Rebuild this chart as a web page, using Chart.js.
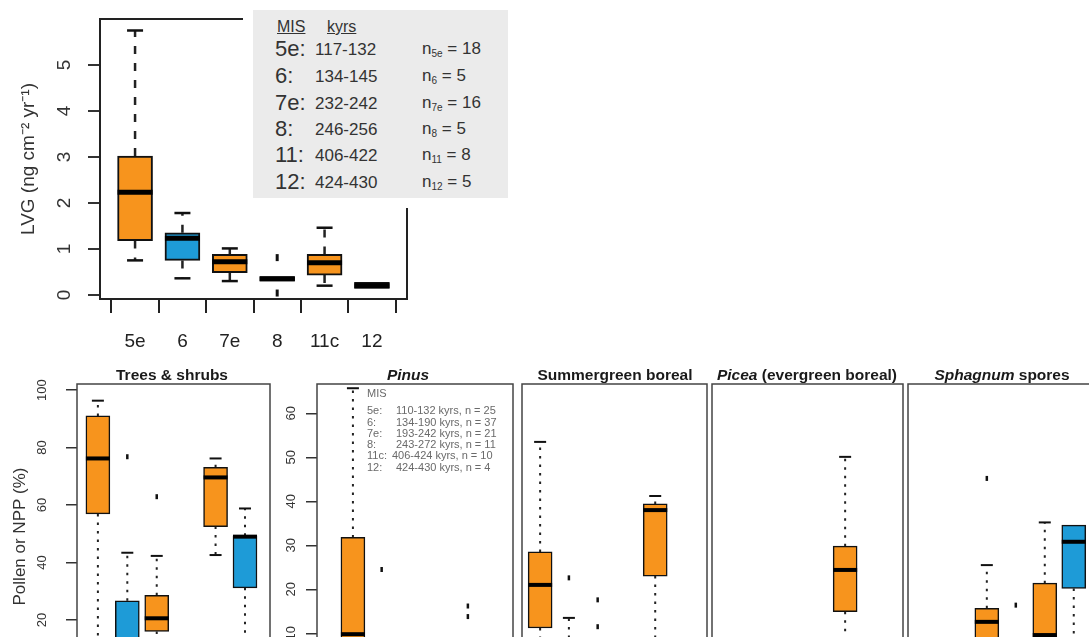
<!DOCTYPE html>
<html>
<head>
<meta charset="utf-8">
<script src="https://cdn.jsdelivr.net/npm/chart.js@4.4.1/dist/chart.umd.min.js"></script>
<style>
  html, body { margin: 0; padding: 0; background: #fff; overflow: hidden; width: 1089px; height: 637px; }
  body { position: relative; font-family: "Liberation Sans", Arial, sans-serif; color: #222; }
  canvas { position: absolute; }
  .ttl { position: absolute; top: 367px; font-weight: bold; font-size: 15.5px; line-height: 1; white-space: nowrap; transform: translateX(-50%); color: #1a1a1a; }
  #lvgKey { position: absolute; left: 243px; top: 0; width: 255px; height: 188px; background: #ebebeb; border: 10px solid #fff; color: #333; z-index: 2; }
  #lvgKey span, #pinusKey span { position: absolute; white-space: nowrap; line-height: 1; transform: translateY(-50%); }
  #pinusKey { position: absolute; left: 367px; top: 386px; width: 150px; height: 90px; color: #6a6a6a; font-size: 11px; z-index: 2; }
  u { text-decoration: underline; }
  sub { font-size: 10px; vertical-align: -3px; }
</style>
</head>
<body>
<canvas id="lvg" width="420" height="360" style="left:0;top:0"></canvas>
<canvas id="trees" width="272" height="330" style="left:0;top:360px"></canvas>
<canvas id="pinus" width="243" height="330" style="left:272px;top:360px"></canvas>
<canvas id="summer" width="194" height="330" style="left:515px;top:360px"></canvas>
<canvas id="picea" width="196" height="330" style="left:709px;top:360px"></canvas>
<canvas id="sphag" width="196" height="330" style="left:905px;top:360px"></canvas>

<div id="lvgKey"></div>
<div id="pinusKey"></div>

<div class="ttl" style="left:172px">Trees &amp; shrubs</div>
<div class="ttl" style="left:408px"><i>Pinus</i></div>
<div class="ttl" style="left:615px">Summergreen boreal</div>
<div class="ttl" style="left:807px"><i>Picea</i> (evergreen boreal)</div>
<div class="ttl" style="left:1002px"><i>Sphagnum</i> spores</div>

<script>
var misLabels = ['5e', '6', '7e', '8', '11c', '12'];

// box stats per MIS stage: [low whisker, Q1, median, Q3, high whisker]
var lvgBoxes = [[0.75, 1.18, 2.23, 3.02, 5.75], [0.36, 0.75, 1.23, 1.35, 1.78], [0.30, 0.48, 0.72, 0.88, 1.01],
                [0.30, 0.30, 0.35, 0.40, 0.40], [0.20, 0.43, 0.70, 0.88, 1.46], [0.14, 0.14, 0.20, 0.27, 0.27]];
var lvgOutliers = [[], [], [], [0.81, 0.04], [], []];
var lvgTicks = [0, 1, 2, 3, 4, 5];

var treesBoxes = [[5, 56.9, 76.2, 91, 96.3], [1, 5, 10, 26.7, 43.4], [6, 16, 20.6, 28.6, 42.3],
                  [0.5, 2, 4, 7, 11], [42.6, 52.5, 69.6, 73.1, 76.2], [8, 31.2, 49, 49.3, 58.8]];
var treesOutliers = [[], [76.8], [62.9], [], [], []];
var treesTicks = [0, 20, 40, 60, 80, 100];

var pinusBoxes = [[0.5, 3, 9.8, 31.8, 65.7], [0.2, 1.5, 3, 6, 8.5], [0.2, 1, 2, 4, 7],
                  [0.1, 0.5, 1, 2, 4], [0.5, 2, 4, 7, 8.5], [0.1, 0.5, 1, 2, 3]];
var pinusOutliers = [[], [24.5], [], [], [16.2, 13.8], []];
var pinusTicks = [0, 10, 20, 30, 40, 50, 60];

var summerBoxes = [[0, 11.2, 21, 28.5, 53.5], [0, 1, 3, 7, 13.5], [0, 0.5, 2, 4, 8],
                   [0, 0.3, 1, 2, 4], [4, 23, 38, 39.4, 41.2], [0, 0.5, 1.5, 3, 6]];
var summerOutliers = [[], [22.6], [17.6, 11.5], [], [], []];

var piceaBoxes = [[0, 0.5, 1.5, 3, 6], [0, 0.2, 0.5, 1, 2], [0, 1, 2, 4, 8],
                  [0, 0.2, 0.5, 1, 2], [2, 14.9, 24.4, 29.8, 50.1], [0, 0.5, 1, 2, 4]];
var piceaOutliers = [[], [], [], [], [], []];

var sphagBoxes = [[0, 1, 2, 4, 8], [0, 1, 2, 3, 6], [0, 5, 12.6, 15.7, 25.5],
                  [0, 1, 2, 4, 8], [0, 4, 9.6, 21.4, 35.2], [5, 20.2, 30.8, 34.6, 34.6]];
var sphagOutliers = [[], [], [45.2], [16.4], [], []];

// legend texts
var keyMis = ['5e:', '6:', '7e:', '8:', '11:', '12:'];
var keyKyrs = ['117-132', '134-145', '232-242', '246-256', '406-422', '424-430'];
var keyNSub = ['5e', '6', '7e', '8', '11', '12'];
var keyN = [18, 5, 16, 5, 8, 5];
var pinusKeyMis = ['5e:', '6:', '7e:', '8:', '11c:', '12:'];
var pinusKeyKyrs = ['110-132', '134-190', '193-242', '243-272', '406-424', '424-430'];
var pinusKeyN = [25, 37, 21, 11, 10, 4];

var orange = '#f7941d', blue = '#1e9bd7';
var misColors = [orange, blue, orange, blue, orange, blue];

var framePlugin = {
  id: 'frame',
  afterDraw: function (chart, args, opts) {
    var a = chart.chartArea, c = chart.ctx;
    c.save();
    c.strokeStyle = opts.color;
    c.lineWidth = opts.width;
    c.strokeRect(a.left, a.top, a.right - a.left, a.bottom - a.top);
    c.restore();
  }
};

function boxChart(id, stats, outliers, yTicks, look) {
  var box = [], med = [], caps = [], whisk = [], outs = [];
  stats.forEach(function (s, i) {
    var x = i + 1;
    box.push({x: x, y: [s[1], s[3]]});
    med.push({x: x, y: s[2]});
    if (s[4] > s[3]) {
      whisk.push({x: x, y: s[3]}, {x: x, y: s[4]}, {x: x, y: null});
      caps.push({x: x, y: s[4]});
    }
    if (s[0] < s[1]) {
      whisk.push({x: x, y: s[1]}, {x: x, y: s[0]}, {x: x, y: null});
      caps.push({x: x, y: s[0]});
    }
    outliers[i].forEach(function (v) { outs.push({x: x, y: v}); });
  });

  return new Chart(document.getElementById(id), {
    type: 'line',
    data: {
      datasets: [{
        type: 'line', data: med, order: 1, showLine: false,
        pointStyle: 'line', pointRadius: look.boxW / 2, pointBorderWidth: look.medW,
        pointBorderColor: '#000'
      }, {
        type: 'line', data: caps, order: 2, showLine: false,
        pointStyle: 'line', pointRadius: look.capR, pointBorderWidth: look.capW,
        pointBorderColor: '#111'
      }, {
        type: 'line', data: outs, order: 3, showLine: false,
        pointStyle: 'line', pointRotation: 90, pointRadius: look.outR, pointBorderWidth: look.outW,
        pointBorderColor: '#111'
      }, {
        type: 'bar', data: box, order: 4,
        backgroundColor: misColors, borderColor: '#111', borderWidth: look.boxLine,
        borderSkipped: false, barThickness: look.boxW
      }, {
        type: 'line', data: whisk, order: 5, spanGaps: false,
        borderColor: '#222', borderWidth: look.whW, borderDash: look.dash,
        pointRadius: 0
      }]
    },
    options: {
      responsive: false,
      animation: false,
      devicePixelRatio: 1,
      events: [],
      layout: {autoPadding: false, padding: look.pad},
      plugins: {
        legend: {display: false},
        tooltip: {enabled: false},
        frame: {color: look.frameColor, width: look.frameW}
      },
      scales: {
        x: {
          type: 'linear', min: look.xMin, max: look.xMax, offset: false,
          display: look.xAxis,
          afterBuildTicks: function (s) { s.ticks = misLabels.map(function (l, i) { return {value: i + 1}; }); },
          ticks: {
            autoSkip: false, maxRotation: 0, padding: 17,
            color: '#222', font: {family: 'Liberation Sans', size: 19},
            callback: function (v) { return misLabels[v - 1]; }
          },
          grid: {drawOnChartArea: false, tickLength: 14, color: '#222', lineWidth: 2},
          border: {display: false},
          afterFit: function (s) { s.height = look.xAxisH; s.paddingLeft = 0; s.paddingRight = 0; }
        },
        y: {
          type: 'linear', min: look.yMin, max: look.yMax,
          display: look.yAxis,
          afterBuildTicks: function (s) { s.ticks = yTicks.map(function (v) { return {value: v}; }); },
          ticks: {
            minRotation: 90, maxRotation: 90, crossAlign: 'center', padding: look.yPad,
            color: '#333', font: {family: 'Liberation Sans', size: look.yFont}
          },
          grid: {drawOnChartArea: false, tickLength: look.tick, color: '#333', lineWidth: look.frameW},
          border: {display: false},
          title: {
            display: !!look.yTitle, text: look.yTitle, color: '#333',
            font: {family: 'Liberation Sans', size: look.yTitleFont},
            padding: {top: look.yTitlePad, bottom: 0}
          },
          afterFit: function (s) { s.width = look.yAxisW; s.paddingTop = 0; s.paddingBottom = 0; }
        }
      }
    },
    plugins: [framePlugin]
  });
}

// top panel
boxChart('lvg', lvgBoxes, lvgOutliers, lvgTicks, {
  xMin: 0.26, xMax: 6.74, yMin: -0.09, yMax: 6.0,
  pad: {left: 0, top: 19, right: 13, bottom: 0},
  xAxis: true, xAxisH: 61, yAxis: true, yAxisW: 100,
  yFont: 19, yPad: 18, tick: 12,
  yTitle: 'LVG (ng cm\u207B\u00B2 yr\u207B\u00B9)', yTitleFont: 19, yTitlePad: 17,
  boxW: 35, boxLine: 2, medW: 5, capR: 8, capW: 2.5, outR: 3.5, outW: 3,
  whW: 2.5, dash: [8, 9], frameColor: '#222', frameW: 2
});

var lowLook = {
  pad: {left: 0, top: 24, right: 2, bottom: 1},
  xAxis: false, xAxisH: 0, yAxis: false, yAxisW: 0,
  yFont: 13, yPad: 13, tick: 11, yTitle: '', yTitleFont: 17, yTitlePad: 10,
  boxW: 24, boxLine: 1.5, medW: 4, capR: 6, capW: 2, outR: 2.5, outW: 2.5,
  whW: 2, dash: [2.5, 6], frameColor: '#444', frameW: 1.5,
  yMin: -2.66, yMax: 66.66
};
function look(extra) { return Object.assign({}, lowLook, extra); }

boxChart('trees', treesBoxes, treesOutliers, treesTicks, look({
  xMin: 0.29, xMax: 6.85, yMin: -4, yMax: 102.1,
  yAxis: true, yAxisW: 77, yPad: 13, yTitle: 'Pollen or NPP (%)'
}));
boxChart('pinus', pinusBoxes, pinusOutliers, pinusTicks, look({
  xMin: -0.25, xMax: 6.57, yAxis: true, yAxisW: 45, yPad: 7
}));
boxChart('summer', summerBoxes, summerOutliers, pinusTicks, look({
  xMin: 0.37, xMax: 6.8, pad: {left: 7, top: 24, right: 2, bottom: 1}
}));
boxChart('picea', piceaBoxes, piceaOutliers, pinusTicks, look({
  xMin: 0.49, xMax: 6.96, pad: {left: 3, top: 24, right: 2, bottom: 1}
}));
boxChart('sphag', sphagBoxes, sphagOutliers, pinusTicks, look({
  xMin: 0.28, xMax: 6.94, pad: {left: 3, top: 24, right: 0, bottom: 1}
}));

// keys
var k = document.getElementById('lvgKey');
var html = '<span style="left:24px;top:17px;font-size:16px"><u>MIS</u></span>' +
           '<span style="left:74px;top:17px;font-size:16px"><u>kyrs</u></span>';
var rowY = [39, 66, 93, 119, 145, 172];
keyMis.forEach(function (m, i) {
  html += '<span style="left:22px;top:' + rowY[i] + 'px;font-size:22px">' + m + '</span>' +
          '<span style="left:62px;top:' + rowY[i] + 'px;font-size:17px">' + keyKyrs[i] + '</span>' +
          '<span style="left:169px;top:' + rowY[i] + 'px;font-size:17px">n<sub>' + keyNSub[i] + '</sub> = ' + keyN[i] + '</span>';
});
k.innerHTML = html;

var pk = document.getElementById('pinusKey');
var phtml = '<span style="left:0;top:7px">MIS</span>';
var pRowY = [24, 35.5, 47, 58, 69, 80.5];
pinusKeyMis.forEach(function (m, i) {
  phtml += '<span style="left:0;top:' + pRowY[i] + 'px">' + m + '</span>' +
           '<span style="left:' + (i === 4 ? 25 : 29) + 'px;top:' + pRowY[i] + 'px">' +
           pinusKeyKyrs[i] + ' kyrs, n = ' + pinusKeyN[i] + '</span>';
});
pk.innerHTML = phtml;
</script>
</body>
</html>
